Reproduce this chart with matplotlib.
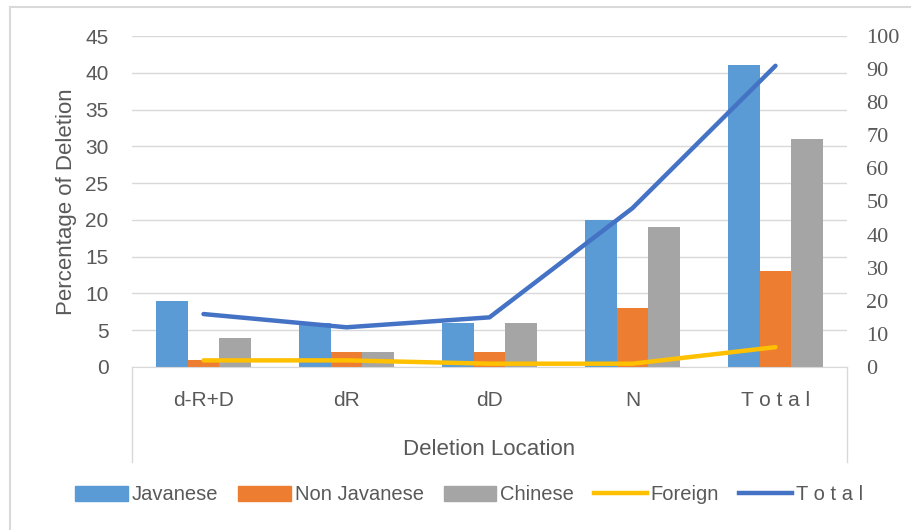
import matplotlib
matplotlib.use("Agg")
import matplotlib.pyplot as plt
import numpy as np
from matplotlib.lines import Line2D
from matplotlib.patches import Patch

categories = ["d-R+D", "dR", "dD", "N", "T o t a l"]
javanese = [9, 6, 6, 20, 41]
non_javanese = [1, 2, 2, 8, 13]
chinese = [4, 2, 6, 19, 31]
foreign = [2, 2, 1, 1, 6]
total = [16, 12, 15, 48, 91]
left_ticks = list(range(0, 50, 5))
right_ticks = list(range(0, 110, 10))

C_JAV = "#5B9BD5"
C_NON = "#ED7D31"
C_CHI = "#A5A5A5"
C_FOR = "#FFC000"
C_TOT = "#4472C4"
TXT = "#595959"
GRID = "#D9D9D9"

plt.rcParams['font.family'] = ['Liberation Sans', 'DejaVu Sans']

fig = plt.figure(figsize=(9.11, 5.30), dpi=100)
ax = fig.add_axes([132/911, 1-367/530, (847-132)/911, (367-36)/530])
ax2 = ax.twinx()

x = np.arange(len(categories))
w = 0.222
ax.bar(x - w, javanese, w, color=C_JAV, zorder=2)
ax.bar(x, non_javanese, w, color=C_NON, zorder=2)
ax.bar(x + w, chinese, w, color=C_CHI, zorder=2)

ax2.plot(x, foreign, color=C_FOR, lw=3.2, solid_capstyle='round', zorder=3)
ax2.plot(x, total, color=C_TOT, lw=3.2, solid_capstyle='round', zorder=3)

ax.set_xlim(-0.5, len(categories) - 0.5)
ax.set_ylim(0, 45)
ax2.set_ylim(0, 100)
ax.set_yticks(left_ticks)
ax2.set_yticks(right_ticks)
ax.yaxis.grid(True, color=GRID, lw=1)
ax.set_axisbelow(True)

for a in (ax, ax2):
    for s in a.spines.values():
        s.set_visible(False)
ax.spines['bottom'].set_visible(True)
ax.spines['bottom'].set_color(GRID)

ax.tick_params(axis='y', length=0, pad=17, labelsize=15, labelcolor=TXT)
ax2.tick_params(axis='y', length=0, pad=14, labelsize=16, labelcolor=TXT)
for lab in ax2.get_yticklabels():
    lab.set_family(['Liberation Serif', 'DejaVu Serif'])
ax.set_xticks(x)
ax.set_xticklabels(categories)
ax.tick_params(axis='x', length=0, pad=17, labelsize=15, labelcolor=TXT)

ax.set_ylabel("Percentage of Deletion", fontsize=16, color=TXT, labelpad=6)
ax.set_xlabel("Deletion Location", fontsize=16, color=TXT, labelpad=21)

# category box lines
drop = (462 - 367) / (367 - 36)
for xv in (0, 1):
    ax.add_line(Line2D([xv, xv], [0, -drop], transform=ax.transAxes,
                       color=GRID, lw=1, clip_on=False))

# outer chart frame (top and left)
fig.add_artist(Line2D([10/911, 1], [1-7/530, 1-7/530], transform=fig.transFigure,
                      color=GRID, lw=1.5))
fig.add_artist(Line2D([10/911, 10/911], [0, 1-7/530], transform=fig.transFigure,
                      color=GRID, lw=1.5))

handles = [Patch(color=C_JAV), Patch(color=C_NON), Patch(color=C_CHI),
           Line2D([], [], color=C_FOR, lw=3.2), Line2D([], [], color=C_TOT, lw=3.2)]
labels = ["Javanese", "Non Javanese", "Chinese", "Foreign", "T o t a l"]
leg = fig.legend(handles, labels, loc='center', bbox_to_anchor=(469/911, 1-495/530),
                 ncol=5, frameon=False, fontsize=14.5, handlelength=2.6,
                 handleheight=0.75, handletextpad=0.2, columnspacing=1.0)
for t in leg.get_texts():
    t.set_color(TXT)

fig.savefig("out.png", dpi=100)
